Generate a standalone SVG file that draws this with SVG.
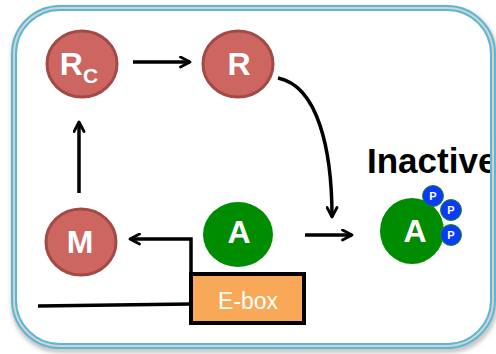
<svg xmlns="http://www.w3.org/2000/svg" width="496" height="354" viewBox="0 0 496 354">
<style>
.red{fill:#cd6561;stroke:#a34a47;stroke-width:3}
.grn{fill:#008c00}
.pc{fill:#0a3cf8;stroke:#1a8a1a;stroke-width:1}
.lbl{font-family:"Liberation Sans",Arial,sans-serif;font-weight:bold;fill:#fff;text-anchor:middle}
.big{font-size:32px}
.pl{font-size:11px}
.ln{fill:none;stroke:#000;stroke-width:3.5}
</style>
<defs>
<marker id="ah" viewBox="0 0 13 13" refX="11" refY="6.5" markerWidth="13" markerHeight="13" markerUnits="userSpaceOnUse" orient="auto">
<path d="M1.5,1.5 L11,6.5 L1.5,11.5" fill="none" stroke="#000" stroke-width="2.8" stroke-linecap="round" stroke-linejoin="round"/>
</marker>
<filter id="sh" x="-5%" y="-5%" width="110%" height="110%">
<feGaussianBlur stdDeviation="2"/>
</filter>
<clipPath id="inner">
<rect x="0" y="0" width="491" height="354"/>
</clipPath>
</defs>
<g id="frame">
<rect x="14" y="10" width="481" height="340" rx="46" fill="none" stroke="#bbb" stroke-width="5" filter="url(#sh)"/>
<rect x="14" y="8" width="479" height="338" rx="46" fill="#fff" stroke="none"/>
</g>
<g id="connectors">
<line class="ln" x1="133" y1="62" x2="190" y2="62" marker-end="url(#ah)"/>
<line class="ln" x1="79" y1="193" x2="79" y2="122" marker-end="url(#ah)"/>
<path class="ln" d="M278,78 C318,86 332,150 332,217" marker-end="url(#ah)"/>
<line class="ln" x1="305" y1="235" x2="352" y2="235" marker-end="url(#ah)"/>
<polyline class="ln" points="191,273 191,239 130,239" marker-end="url(#ah)"/>
<line class="ln" x1="38" y1="306" x2="191" y2="304"/>
</g>
<g id="node-Rc">
<ellipse class="red" cx="82" cy="64" rx="35" ry="33"/>
<text class="lbl" x="79" y="75" font-size="32">R<tspan font-size="21" dy="8">C</tspan></text>
</g>
<g id="node-R">
<ellipse class="red" cx="238" cy="64" rx="35" ry="33"/>
<text class="lbl big" x="239" y="75">R</text>
</g>
<g id="node-M">
<ellipse class="red" cx="81" cy="242" rx="35" ry="33"/>
<text class="lbl big" x="80" y="253">M</text>
</g>
<g id="node-A">
<ellipse class="grn" cx="238" cy="234.5" rx="35" ry="32.5"/>
<text class="lbl big" x="239" y="243">A</text>
</g>
<g id="node-Ebox">
<rect x="191" y="274" width="113" height="49" fill="#f9a857" stroke="#000" stroke-width="4"/>
<text x="248" y="309" font-family="'Liberation Sans',Arial,sans-serif" font-size="23" fill="#fff" text-anchor="middle">E-box</text>
</g>
<g id="node-inactive">
<text x="367" y="173" font-family="'Liberation Sans',Arial,sans-serif" font-weight="bold" font-size="35" fill="#000" clip-path="url(#inner)">Inactive</text>
<ellipse class="grn" cx="412" cy="231" rx="32" ry="33"/>
<text class="lbl big" x="415" y="242">A</text>
<circle class="pc" cx="433" cy="196" r="10.5"/>
<text class="lbl pl" x="433" y="200">P</text>
<circle class="pc" cx="451" cy="210" r="10.5"/>
<text class="lbl pl" x="451" y="214">P</text>
<circle class="pc" cx="451" cy="235" r="10.5"/>
<text class="lbl pl" x="451" y="239">P</text>
</g>
<g id="border">
<rect x="14" y="8" width="479" height="338" rx="46" fill="none" stroke="#5cb8d2" stroke-width="6"/>
<rect x="14" y="8" width="479" height="338" rx="46" fill="none" stroke="#d2d2d2" stroke-width="2"/>
</g>
</svg>
